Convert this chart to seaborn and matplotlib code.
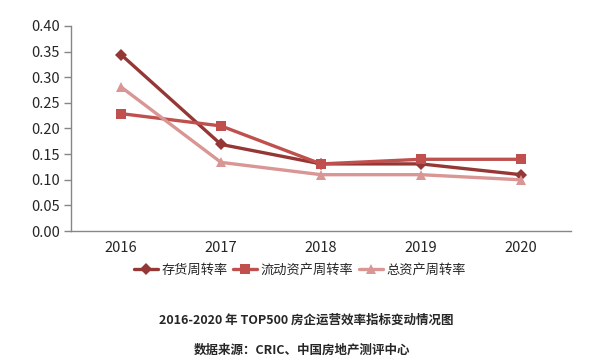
import pandas as pd
import matplotlib
matplotlib.use("Agg")
import matplotlib.pyplot as plt
import seaborn as sns

# chart data
years = ["2016", "2017", "2018", "2019", "2020"]
inventory_turnover = [0.344, 0.169, 0.131, 0.131, 0.110]
current_asset_turnover = [0.229, 0.205, 0.131, 0.140, 0.140]
total_asset_turnover = [0.281, 0.134, 0.110, 0.110, 0.100]
series_names = ["存货周转率", "流动资产周转率", "总资产周转率"]

sns.set_style("white")
plt.rcParams["font.family"] = ["Noto Sans CJK SC", "DejaVu Sans"]

rows = []
for name, vals in zip(series_names, [inventory_turnover, current_asset_turnover, total_asset_turnover]):
    for i, v in enumerate(vals):
        rows.append({"idx": i, "value": v, "series": name})
df = pd.DataFrame(rows)

palette = {"存货周转率": "#953735", "流动资产周转率": "#C0504D", "总资产周转率": "#D99694"}
markers = {"存货周转率": "D", "流动资产周转率": "s", "总资产周转率": "^"}

fig = plt.figure(figsize=(6.12, 3.64), dpi=100)
ax = fig.add_axes([0.116, 0.365, 0.817, 0.564])

sns.lineplot(data=df, x="idx", y="value", hue="series", style="series",
             palette=palette, markers=markers, dashes=False, linewidth=2.4,
             markersize=7.5, markeredgewidth=0, ax=ax)
# diamond a bit smaller
for line in ax.get_lines():
    if line.get_marker() == "D":
        line.set_markersize(6)

ax.set_xlim(-0.5, 4.5)
ax.set_ylim(0, 0.40)
ax.set_yticks([i * 0.05 for i in range(9)])
ax.set_yticklabels([f"{i * 0.05:.2f}" for i in range(9)], fontsize=10.5)
ax.set_xticks(range(len(years)))
ax.set_xticklabels(years, fontsize=10.5)
ax.set_xticks([i - 0.5 for i in range(len(years) + 1)], minor=True)
ax.tick_params(axis="x", which="major", length=0, pad=7)
ax.tick_params(axis="x", which="minor", length=5, color="#868686", width=1)
ax.tick_params(axis="y", length=5, color="#868686", width=1, left=True, pad=3)
ax.set_xlabel("")
ax.set_ylabel("")

for s in ["top", "right"]:
    ax.spines[s].set_visible(False)
for s in ["left", "bottom"]:
    ax.spines[s].set_color("#868686")
    ax.spines[s].set_linewidth(1)

handles, labels = ax.get_legend_handles_labels()
ax.legend(handles, labels, loc="center", bbox_to_anchor=(0.49, 0.258),
          bbox_transform=fig.transFigure, ncol=3, frameon=False, fontsize=9.5,
          handlelength=1.8, handletextpad=0.3, columnspacing=0.4)

fig.text(0.5, 1 - 320 / 364, "2016-2020 年 TOP500 房企运营效率指标变动情况图",
         ha="center", va="center", fontsize=9, fontweight="bold")
fig.text(0.494, 1 - 350 / 364, "数据来源：CRIC、中国房地产测评中心",
         ha="center", va="center", fontsize=9, fontweight="bold")

fig.savefig("out.png", dpi=100)
